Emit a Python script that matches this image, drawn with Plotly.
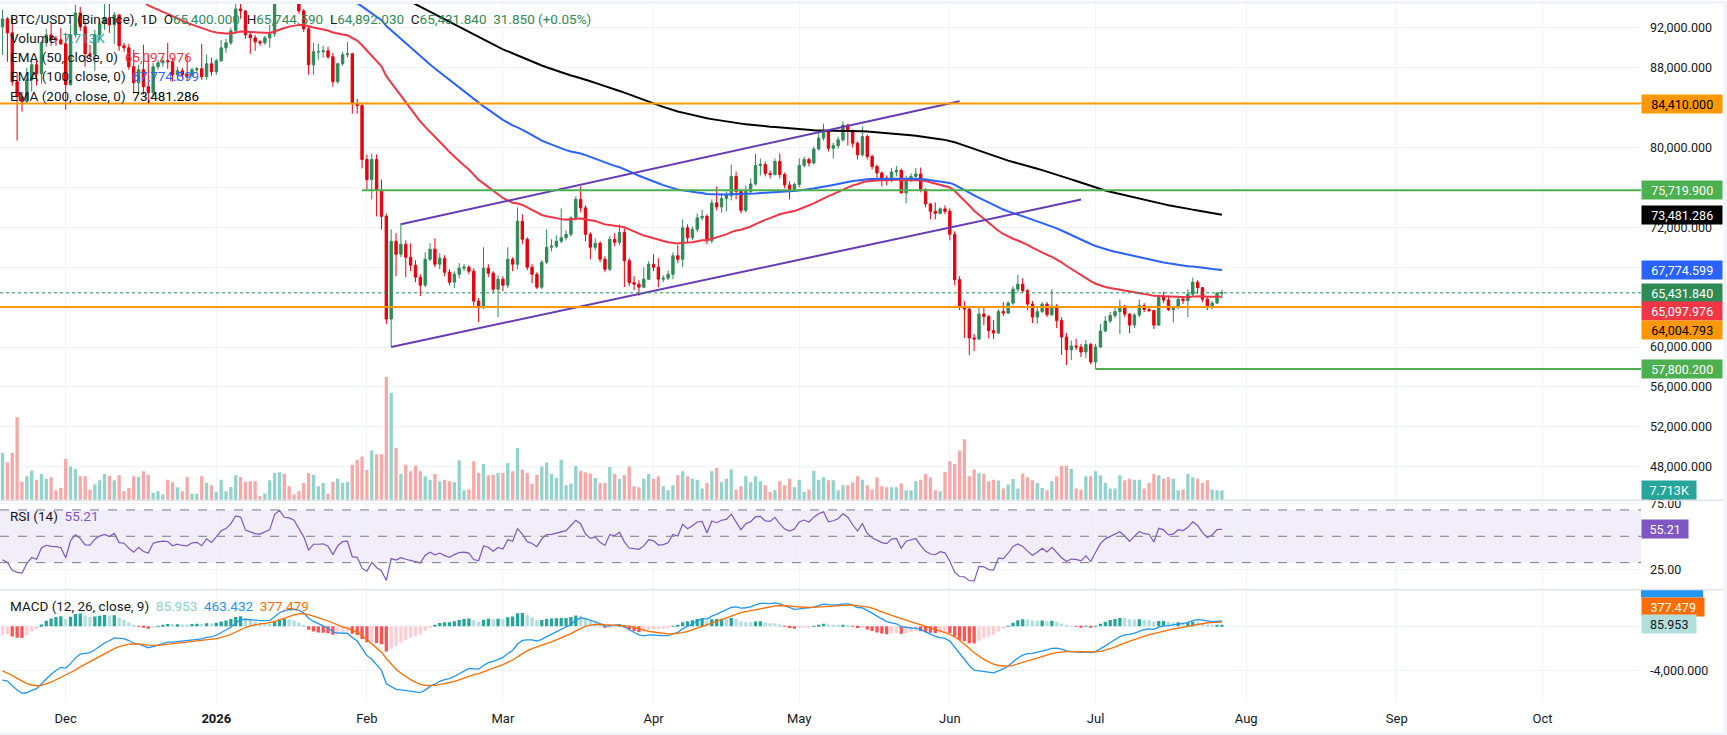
import numpy as np
import pandas as pd
import plotly.graph_objects as go
from plotly.subplots import make_subplots

# ---------------- data (BTC/USDT, Binance, 1D) ----------------
first_open = 92100  # open of 18 Nov 2025 (= previous close)

close_nov = [92900, 91500, 86600, 85100, 84600, 86800, 88300, 87400, 90500, 91300, 90900, 90800, 90400]
high_nov = [93800, 93100, 93100, 87500, 85600, 88000, 88900, 88700, 90700, 91900, 92500, 91200, 92000]
low_nov = [89300, 88600, 86200, 80700, 83600, 84400, 85600, 86200, 86400, 90100, 90200, 90200, 90300]

close_dec = [86300, 91300, 93500, 92100, 89400, 89300, 91300, 92400, 93000, 92300, 93300, 90200, 90000, 88100, 86500, 87800,
             86100, 85500, 88100, 88500, 88700, 88600, 87300, 87700, 87300, 87200, 87800, 87900, 87100, 88400, 87600]
high_dec = [91500, 92300, 94300, 94100, 92700, 90300, 91800, 92900, 94600, 94400, 93600, 93000, 90500, 90400, 89800, 88300,
            90300, 89400, 88500, 88800, 89100, 90500, 88900, 88100, 88000, 89300, 88000, 88100, 90400, 89300, 89000]
low_dec = [83800, 86200, 91000, 91700, 88100, 88900, 87700, 90700, 91800, 91500, 90400, 89700, 89600, 87800, 85400, 85300,
           85300, 84400, 85100, 87800, 88100, 87900, 86600, 86700, 87000, 86700, 87100, 87500, 86800, 86800, 87200]

close_jan = [88700, 90000, 90500, 91700, 93900, 93700, 91300, 91000, 90600, 90500, 91000, 91400, 95300, 96800, 95600, 95500,
             95100, 93700, 91900, 88300, 89600, 89600, 89700, 89100, 86600, 88400, 89300, 89400, 84400, 84200, 78800]
high_jan = [88900, 90800, 90900, 92000, 94500, 94800, 93800, 91600, 91300, 90800, 91200, 92300, 96100, 97800, 97200, 96000,
            95700, 95400, 93900, 92200, 90500, 90400, 90200, 90100, 89500, 88500, 89600, 90600, 89500, 84900, 84500]
low_jan = [87300, 88600, 89500, 90300, 91400, 92900, 90900, 89400, 89700, 90200, 90300, 90000, 91100, 94900, 94800, 94700,
           94800, 93400, 91600, 87300, 87300, 88800, 89000, 88900, 86100, 86400, 88200, 89000, 83400, 83400, 77900]

close_feb = [76800, 78800, 75700, 73100, 62800, 70600, 69300, 70300, 69000, 68200, 67000, 66200, 68800, 69800, 68300, 68900,
             67500, 66500, 67300, 67900, 68000, 67600, 64600, 64000, 67900, 67400, 65800, 66800]
high_feb = [79300, 79400, 79300, 76800, 73400, 71800, 71400, 72400, 70700, 70400, 68700, 67300, 69500, 70400, 70900, 69400,
            69200, 67800, 67600, 68400, 68300, 68200, 67900, 64900, 70000, 68300, 67600, 67200]
low_feb = [75800, 74800, 73100, 71800, 62300, 60000, 67100, 69000, 67000, 67600, 66500, 65100, 66000, 68600, 68000, 67800,
           67100, 66200, 65900, 66900, 67600, 67300, 64000, 62500, 63800, 67000, 65400, 63000]

close_mar = [66200, 68800, 68300, 72600, 70800, 68000, 67300, 66000, 68500, 70000, 70100, 70600, 70950, 71300, 72950, 74800,
             73950, 71300, 70000, 70400, 68800, 67800, 70800, 70500, 71500, 68650, 66450, 66300, 66000, 66800, 68300]
high_mar = [67100, 70000, 69000, 74000, 73300, 71000, 68300, 67500, 68700, 71800, 70800, 71200, 73900, 71700, 73100, 75100,
            76100, 74200, 71500, 70900, 70600, 69100, 71100, 71400, 72300, 71900, 68900, 67100, 66700, 68000, 68600]
low_mar = [65600, 65900, 67600, 67800, 70300, 67700, 66400, 65800, 65800, 68300, 69600, 69900, 70400, 70700, 71100, 72700,
           73500, 70600, 68800, 69700, 68500, 67500, 67600, 70100, 70200, 66000, 66100, 65700, 65150, 65900, 66700]

close_apr = [68000, 66800, 66900, 67300, 69150, 68800, 71950, 70950, 71800, 72950, 73100, 70650, 74450, 74050, 74900, 75200,
             77100, 75600, 73700, 75600, 76350, 78200, 78300, 77400, 77300, 78600, 77300, 76250, 75800, 76300]
high_apr = [69300, 68900, 67200, 67700, 69500, 70200, 72800, 72300, 72100, 73400, 73750, 73300, 74800, 76100, 75400, 75600,
            78300, 77600, 75800, 76200, 76900, 79400, 78900, 78600, 77700, 78900, 79400, 77500, 76600, 76500]
low_apr = [67600, 66000, 66500, 66700, 66800, 68400, 68000, 70500, 70700, 71500, 72700, 70300, 70400, 73700, 73500, 73600,
           74700, 74800, 73400, 73500, 75400, 76200, 77200, 77100, 76900, 77200, 76900, 75900, 74800, 75600]

close_may = [78200, 78800, 78450, 79850, 80950, 81600, 79930, 80200, 80770, 82250, 81700, 80440, 79270, 81100, 79100, 78100,
             77450, 76950, 76700, 77550, 77700, 75450, 76800, 77100, 77350, 75780, 74350, 73600, 73400, 73850, 73600]
high_may = [78900, 79100, 79000, 80100, 81700, 82400, 81700, 80500, 81100, 82600, 82400, 81800, 80600, 82100, 81300, 79300,
            78300, 77600, 77200, 77950, 78150, 77900, 77200, 77400, 77950, 78000, 75900, 74400, 74500, 74000, 74200]
low_may = [76000, 78000, 78100, 78300, 79700, 80700, 79600, 78900, 79900, 80600, 80200, 80000, 78800, 79100, 78800, 77800,
           76900, 76100, 76200, 76500, 77100, 75400, 74400, 76500, 76900, 75500, 74000, 72800, 72800, 73300, 73300]

close_jun = [71300, 66750, 64050, 63800, 60900, 60800, 63300, 63050, 61650, 61400, 63550, 63400, 64400, 65800, 66300, 65650,
             64300, 63000, 63550, 64300, 63250, 64100, 62650, 61000, 59730, 60100, 60000, 59500, 60250, 58500]
high_jun = [73900, 71600, 67100, 64600, 64000, 61300, 64150, 64100, 63200, 62700, 63800, 64500, 64600, 66100, 67250, 66900,
            65800, 64600, 63900, 64500, 64500, 65800, 64300, 63000, 61400, 60650, 60800, 60300, 60700, 60400]
low_jun = [70700, 66200, 63700, 60900, 59200, 59600, 60700, 62200, 60850, 60800, 61300, 63100, 63300, 64200, 65500, 65400,
           63700, 62400, 62350, 63400, 63000, 63100, 61900, 59200, 58200, 58700, 59700, 59000, 58900, 58250]

close_jul = [60000, 61600, 62600, 63150, 63550, 64100, 63300, 62200, 63200, 64150, 63750, 63650, 62200, 64980, 64700, 63750,
             63950, 64800, 64650, 65300, 66500, 65950, 64800, 63950, 64400, 65400, 65431.84]
high_jul = [60300, 62300, 63100, 63500, 63950, 64750, 64200, 63400, 63400, 64750, 64400, 64100, 63700, 65150, 65550, 65100,
            64100, 64900, 64950, 65800, 66950, 66700, 66000, 65000, 64600, 65500, 65744.59]
low_jul = [57800, 59900, 61500, 62400, 62900, 61300, 63000, 61400, 61900, 63000, 63500, 63500, 61800, 62100, 64400, 63600,
           62450, 63800, 64300, 63000, 65100, 65300, 64500, 63700, 63800, 64300, 64892.03]

# volume, thousands of BTC
vol_nov = [36.5, 29.3, 36.5, 64.3, 14.1, 18.5, 23.1, 15.9, 20.3, 16.7, 17.7, 7.7, 9.5]
vol_dec = [31.9, 26.2, 24.2, 18.5, 18.5, 8.2, 12.1, 15.4, 20.3, 19.0, 15.4, 19.3, 6.9, 9.5, 18.5, 18.0, 22.4, 19.8, 5.7,
           6.9, 4.4, 15.9, 13.9, 10.0, 6.9, 18.0, 4.9, 4.9, 18.5, 13.5, 11.6]
vol_jan = [6.4, 15.9, 6.9, 10.3, 19.3, 18.0, 14.1, 14.7, 14.7, 3.1, 5.1, 15.4, 21.1, 21.6, 20.3, 10.8, 4.4, 6.9, 13.4, 21.1,
           19.8, 10.8, 13.4, 4.9, 14.1, 16.7, 13.4, 14.1, 27.5, 31.4, 33.9]
vol_feb = [23.4, 38.6, 35.7, 35.7, 95.6, 83.3, 40.4, 20.3, 27.5, 22.4, 26.7, 22.4, 18.5, 15.9, 20.3, 14.7, 15.9, 14.7, 13.9,
           30.9, 7.7, 8.2, 30.1, 21.1, 28.0, 19.3, 19.8, 21.1]
vol_mar = [21.1, 28.8, 22.4, 40.4, 23.7, 21.1, 12.6, 19.8, 26.2, 29.3, 20.3, 17.2, 31.4, 11.6, 12.9, 26.7, 22.9, 21.6, 20.6,
           17.2, 13.4, 13.4, 25.7, 20.3, 16.5, 19.3, 26.2, 10.8, 10.0, 16.7, 20.3]
vol_apr = [16.7, 18.5, 10.8, 7.7, 11.6, 19.3, 22.4, 18.5, 16.7, 15.9, 9.0, 13.4, 22.4, 24.9, 13.9, 16.7, 23.7, 8.2, 10.8,
           18.5, 13.9, 18.5, 14.7, 11.6, 6.4, 7.7, 14.7, 11.6, 16.7, 10.0]
vol_may = [15.9, 6.4, 8.2, 22.9, 15.9, 17.7, 15.4, 15.4, 7.7, 11.6, 11.6, 13.9, 18.5, 15.9, 11.6, 8.2, 17.7, 10.8, 10.0,
           10.0, 10.0, 12.9, 7.7, 7.7, 14.7, 15.9, 20.3, 17.7, 7.7, 6.9, 21.9]
vol_jun = [30.1, 28.0, 38.6, 47.3, 18.5, 23.7, 21.1, 20.3, 14.7, 15.9, 15.2, 9.0, 12.1, 16.5, 9.0, 20.6, 17.7, 15.4, 13.4,
           9.5, 7.7, 14.7, 18.5, 26.7, 26.7, 24.4, 9.0, 8.2, 18.5, 18.5]
vol_jul = [22.4, 19.3, 13.4, 9.0, 9.0, 19.3, 15.4, 16.7, 15.9, 15.9, 9.0, 13.4, 20.3, 19.3, 16.7, 17.7, 16.7, 7.7, 8.2,
           20.3, 17.7, 16.7, 13.4, 15.4, 8.2, 7.7, 7.713]

# indicator state just before the first visible bar
ema50_seed, ema100_seed, ema200_seed = 106000, 110000, 105300
ema12_seed, ema26_seed, signal_seed = 98000, 102765, -3800
rsi_gain_seed, rsi_loss_seed = 470, 1120

# horizontal levels and trend channel (drawings on the chart)
level_full = [84410.0, 64004.793]                 # orange, full width
level_green = [75719.9, 57800.2]                  # green, from a start bar
level_green_start = ["2026-01-31", "2026-07-01"]
chan_upper_dates, chan_upper_prices = ["2026-02-08", "2026-06-03"], [72300, 84650]
chan_lower_dates, chan_lower_prices = ["2026-02-06", "2026-06-28"], [60000, 74790]

# legend values as shown on the chart
legend_ohlc = ["65,400.000", "65,744.590", "64,892.030", "65,431.840"]
legend_change = "31.850 (+0.05%)"
legend_volume = "7.713K"
legend_ema = ["65,097.976", "67,774.599", "73,481.286"]
legend_rsi = "55.21"
legend_macd = ["85.953", "463.432", "377.479"]

month_ticks = ["2025-12-01", "2026-01-01", "2026-02-01", "2026-03-01", "2026-04-01", "2026-05-01",
               "2026-06-01", "2026-07-01", "2026-08-01", "2026-09-01", "2026-10-01"]
month_text = ["Dec", "<b>2026</b>", "Feb", "Mar", "Apr", "May", "Jun", "Jul", "Aug", "Sep", "Oct"]
price_ticks = list(range(48000, 96001, 4000))
price_ticks_hidden = [64000, 68000, 76000, 84000]   # labels covered by value tags on the chart

# ---------------- assemble ----------------
close = close_nov + close_dec + close_jan + close_feb + close_mar + close_apr + close_may + close_jun + close_jul
high = high_nov + high_dec + high_jan + high_feb + high_mar + high_apr + high_may + high_jun + high_jul
low = low_nov + low_dec + low_jan + low_feb + low_mar + low_apr + low_may + low_jun + low_jul
volume = vol_nov + vol_dec + vol_jan + vol_feb + vol_mar + vol_apr + vol_may + vol_jun + vol_jul
n = min(len(close), len(high), len(low), len(volume))
close, high, low, volume = close[:n], high[:n], low[:n], volume[:n]
opens = [first_open] + close[:-1]
dates = pd.date_range("2025-11-18", periods=n, freq="D")


def ema(values, length, seed):
    a = 2.0 / (length + 1)
    e, out = seed, []
    for v in values:
        e = e + a * (v - e)
        out.append(e)
    return np.array(out)


ema50 = ema(close, 50, ema50_seed)
ema100 = ema(close, 100, ema100_seed)
ema200 = ema(close, 200, ema200_seed)

ag, al, prev, rsi = rsi_gain_seed, rsi_loss_seed, first_open, []
for c in close:
    ch = c - prev
    prev = c
    ag = (ag * 13 + max(ch, 0)) / 14
    al = (al * 13 + max(-ch, 0)) / 14
    rsi.append(100 - 100 / (1 + ag / al))

macd = ema(close, 12, ema12_seed) - ema(close, 26, ema26_seed)
signal = ema(macd, 9, signal_seed)
hist = macd - signal
hist_colors = []
for i, h in enumerate(hist):
    p = hist[i - 1] if i > 0 else h
    if h >= 0:
        hist_colors.append("#26A69A" if h >= p else "#B2DFDB")
    else:
        hist_colors.append("#FF5252" if h < p else "#FFCDD2")

UP, DN = "#2E8B57", "#E8000B"
vol_colors = ["#92D3CC" if c >= o else "#F7A9A7" for o, c in zip(opens, close)]
BAR_W = 0.68 * 86400000
TXT = "#131722"
GRID = "#F0F3FA"
FONT = "Roboto, Arial, sans-serif"
PLOT_H = 703


def py(px):
    return (PLOT_H - px) / PLOT_H


fig = make_subplots(rows=3, cols=1, shared_xaxes=True, vertical_spacing=0)

fig.add_trace(go.Bar(x=dates, y=volume, width=BAR_W, marker=dict(color=vol_colors, line=dict(width=0)),
                     xaxis="x", yaxis="y4", hoverinfo="skip"))
fig.add_trace(go.Candlestick(x=dates, open=opens, high=high, low=low, close=close, whiskerwidth=0,
                             increasing=dict(line=dict(color=UP, width=1), fillcolor=UP),
                             decreasing=dict(line=dict(color=DN, width=1), fillcolor=DN),
                             hoverinfo="skip"), row=1, col=1)
for series, col in [(ema50, "#F23645"), (ema100, "#2962FF"), (ema200, "#000000")]:
    fig.add_trace(go.Scatter(x=dates, y=series, mode="lines", line=dict(color=col, width=2), hoverinfo="skip"),
                  row=1, col=1)
for dts, prs in [(chan_upper_dates, chan_upper_prices), (chan_lower_dates, chan_lower_prices)]:
    fig.add_trace(go.Scatter(x=dts, y=prs, mode="lines", line=dict(color="#673AB7", width=2), hoverinfo="skip"),
                  row=1, col=1)

fig.add_trace(go.Scatter(x=dates, y=rsi, mode="lines", line=dict(color="#7E57C2", width=1.2), hoverinfo="skip"),
              row=2, col=1)

fig.add_trace(go.Bar(x=dates, y=hist, width=BAR_W, marker=dict(color=hist_colors, line=dict(width=0)),
                     hoverinfo="skip"), row=3, col=1)
fig.add_trace(go.Scatter(x=dates, y=macd, mode="lines", line=dict(color="#2196F3", width=1.3), hoverinfo="skip"),
              row=3, col=1)
fig.add_trace(go.Scatter(x=dates, y=signal, mode="lines", line=dict(color="#FF6D00", width=1.3), hoverinfo="skip"),
              row=3, col=1)

# ---- shapes ----
shapes = []
for lv in level_full:
    shapes.append(dict(type="line", xref="paper", x0=0, x1=1, yref="y", y0=lv, y1=lv,
                       line=dict(color="#FF9800", width=2)))
for lv, st in zip(level_green, level_green_start):
    shapes.append(dict(type="line", xref="x", x0=st, x1="2027-01-31", yref="y", y0=lv, y1=lv,
                       line=dict(color="#4CAF50", width=2)))
shapes.append(dict(type="line", xref="paper", x0=0, x1=1, yref="y", y0=close[-1], y1=close[-1],
                   line=dict(color=UP, width=1, dash="dot")))
shapes.append(dict(type="rect", xref="paper", x0=0, x1=1, yref="y2", y0=30, y1=70,
                   fillcolor="rgba(126,87,194,0.10)", line=dict(width=0), layer="below"))
for lv in [70, 50, 30]:
    shapes.append(dict(type="line", xref="paper", x0=0, x1=1, yref="y2", y0=lv, y1=lv,
                       line=dict(color="#787B86", width=1, dash="dash")))
XR = 1727 / 1641
for px in [499, 589]:
    shapes.append(dict(type="line", xref="paper", x0=0, x1=XR, yref="paper", y0=py(px), y1=py(px),
                       line=dict(color="#E0E3EB", width=1.5)))
shapes.append(dict(type="rect", xref="paper", x0=0, x1=XR, yref="paper", y0=py(0), y1=py(-3),
                   fillcolor="#F0F3FA", line=dict(width=0)))
shapes.append(dict(type="rect", xref="paper", x0=0, x1=XR, yref="paper", y0=py(733), y1=py(740),
                   fillcolor="#F0F3FA", line=dict(width=0)))
shapes.append(dict(type="rect", xref="paper", x0=1724 / 1641, x1=XR + 0.01, yref="paper", y0=py(740), y1=py(-3),
                   fillcolor="#F0F3FA", line=dict(width=0)))
# MACD-line tag clipped at the top of its pane
shapes.append(dict(type="rect", xref="paper", x0=1, x1=1703 / 1641, yref="paper", y0=py(597), y1=py(589.5),
                   fillcolor="#2196F3", line=dict(width=0)))

# ---- annotations ----
ann = []
sp = "\u00a0\u00a0"


def span(t, c):
    return f'<span style="color:{c}">{t}</span>'


G = "#2E8B57"
line1 = (span("BTC/USDT (Binance), 1D", TXT) + sp + span("O", TXT) + span(legend_ohlc[0], G) + sp +
         span("H", TXT) + span(legend_ohlc[1], G) + sp + span("L", TXT) + span(legend_ohlc[2], G) + sp +
         span("C", TXT) + span(legend_ohlc[3], G) + sp + span(legend_change, G))
legend_lines = [
    (line1, 15.5),
    (span("Volume", TXT) + sp + span(legend_volume, "#26A69A"), 34.4),
    (span("EMA (50, close, 0)", TXT) + sp + span(legend_ema[0], "#F23645"), 53.6),
    (span("EMA (100, close, 0)", TXT) + sp + span(legend_ema[1], "#2962FF"), 72.9),
    (span("EMA (200, close, 0)", TXT) + sp + span(legend_ema[2], "#000000"), 92.1),
    (span("RSI (14)", TXT) + sp + span(legend_rsi, "#7E57C2"), 515.0),
    (span("MACD (12, 26, close, 9)", TXT) + sp + span(legend_macd[0], "#8ED3C7") + sp +
     span(legend_macd[1], "#2196F3") + sp + span(legend_macd[2], "#FF6D00"), 605.5),
]
for txt, ypx in legend_lines:
    ann.append(dict(xref="paper", x=0, xanchor="left", xshift=8, yref="paper", y=py(ypx), yanchor="middle",
                    text=txt, showarrow=False, font=dict(family=FONT, size=13.5, color=TXT)))


def tag(text, yref, y, bg, fg, yshift=0, width=78):
    ann.append(dict(xref="paper", x=1, xanchor="left", yref=yref, y=y, yanchor="middle", yshift=yshift,
                    text=text, showarrow=False, bgcolor=bg, font=dict(family=FONT, size=12.5, color=fg),
                    width=width, height=16, borderpad=1.2, align="center"))


tag(f"{level_full[0]:,.3f}", "y", level_full[0], "#FF9800", "#000000")
tag(f"{level_green[0]:,.3f}", "y", level_green[0], "#4CAF50", "#FFFFFF")
tag(legend_ema[2], "y", ema200[-1], "#000000", "#FFFFFF")
tag(legend_ema[1], "y", ema100[-1], "#2962FF", "#FFFFFF")
tag(legend_ohlc[3], "y", close[-1], G, "#FFFFFF")
tag(legend_ema[0], "y", close[-1], "#F23645", "#FFFFFF", yshift=-18.5)
tag(f"{level_full[1]:,.3f}", "y", close[-1], "#FF9800", "#000000", yshift=-37)
tag(f"{level_green[1]:,.3f}", "y", level_green[1], "#4CAF50", "#FFFFFF")
tag(legend_volume, "y4", volume[-1], "#26A69A", "#FFFFFF", width=52)
tag(legend_rsi, "y2", 55.21, "#7E57C2", "#FFFFFF", width=44)
tag(legend_macd[2], "paper", py(606), "#FF6D00", "#FFFFFF", width=60)
tag(legend_macd[0], "paper", py(623.3), "#B2DFDB", "#131722", width=52)

price_text = ["" if v in price_ticks_hidden else f"{v:,.3f}" for v in price_ticks]

fig.update_layout(
    width=1727, height=735, autosize=False,
    margin=dict(l=0, r=86, t=0, b=32),
    paper_bgcolor="white", plot_bgcolor="white",
    showlegend=False, hovermode=False,
    font=dict(family=FONT, size=12, color=TXT),
    shapes=shapes, annotations=ann,
    yaxis=dict(domain=[py(499), 1], range=[44642, 94393], side="right", tickvals=price_ticks,
               ticktext=price_text, showgrid=True, gridcolor=GRID, zeroline=False,
               ticks="", ticklabelstandoff=8, tickfont=dict(family=FONT, size=12.5, color=TXT), fixedrange=True),
    yaxis2=dict(domain=[py(589), py(499)], range=[9.5, 77.4], side="right", tickvals=[25, 75],
                ticktext=["25.00", "75.00"], showgrid=True, gridcolor=GRID, zeroline=False, ticks="",
                ticklabelstandoff=8, tickfont=dict(family=FONT, size=12.5, color=TXT)),
    yaxis3=dict(domain=[0, py(589)], range=[-6872, 3263], side="right", tickvals=[-4000, 0],
                ticktext=["-4,000.000", ""], showgrid=True, gridcolor=GRID, zeroline=False, ticks="",
                ticklabelstandoff=8, tickfont=dict(family=FONT, size=12.5, color=TXT)),
    yaxis4=dict(overlaying="y", range=[0, 385], visible=False, fixedrange=True),
)
fig.update_xaxes(range=["2025-11-17 11:25", "2026-10-21 06:30"], tickvals=month_ticks, ticktext=month_text,
                 showgrid=True, gridcolor=GRID, zeroline=False, ticks="", showline=False,
                 rangeslider=dict(visible=False), tickfont=dict(family=FONT, size=13, color=TXT))
fig.update_xaxes(showticklabels=False, row=1, col=1)
fig.update_xaxes(showticklabels=False, row=2, col=1)
fig.update_xaxes(showticklabels=True, ticklabelstandoff=6, row=3, col=1)

fig.write_html("out.html")
